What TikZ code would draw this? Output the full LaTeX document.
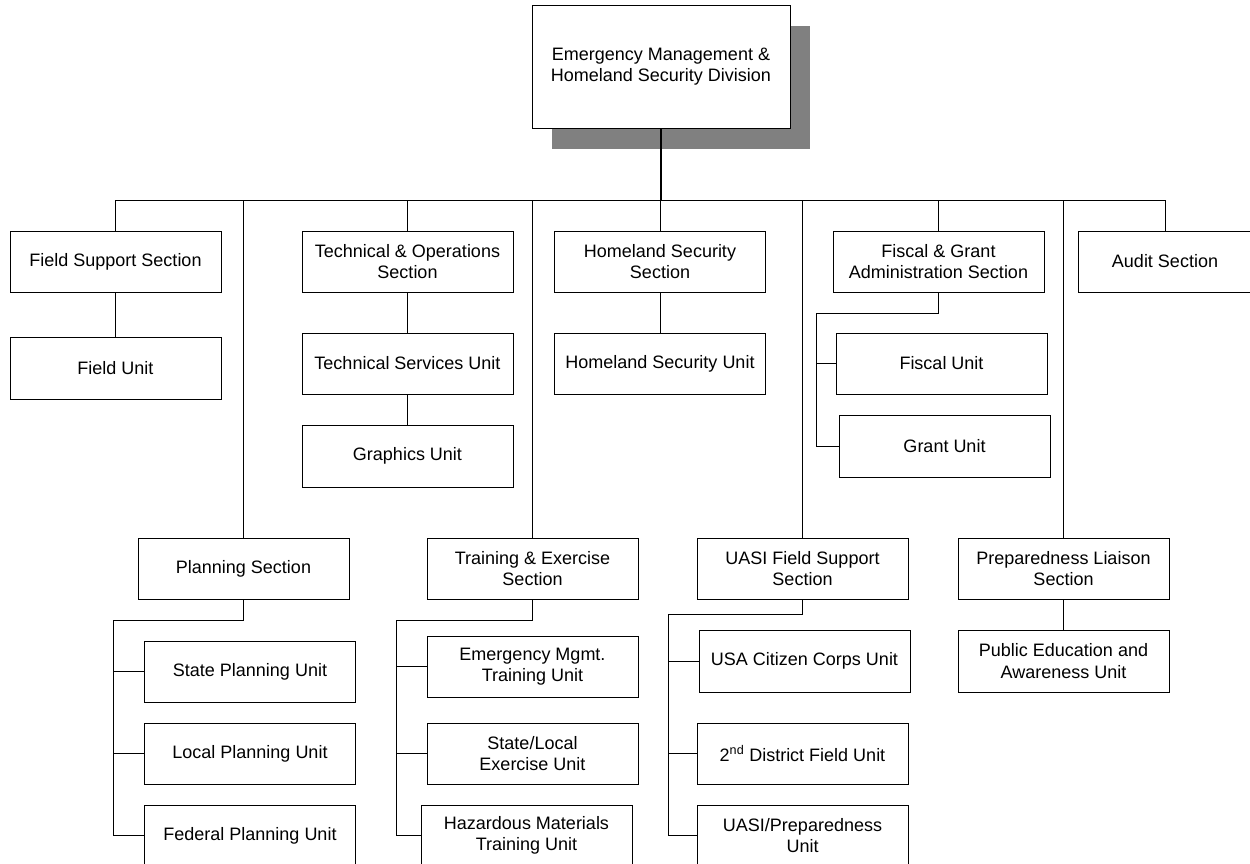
\documentclass[tikz,border=0pt]{standalone}
\usepackage{fontspec}
\setmainfont{Liberation Sans}
\usetikzlibrary{shadows}

\begin{document}
\begin{tikzpicture}[x=1pt,y=-1pt,
    box/.style={draw, line width=0.9pt, fill=white, minimum width=211pt,
      minimum height=61pt, align=center, inner sep=2pt,
      font=\fontsize{18}{21.5}\selectfont},
    link/.style={line width=0.9pt}]
      \useasboundingbox (0,0) rectangle (1250,864);
      \clip (0,0) rectangle (1250,864);
      % division
      \node[box, minimum width=258pt, minimum height=123pt,
        drop shadow={shadow xshift=20pt, shadow yshift=-21pt, fill=gray, opacity=1}]
        (ems) at (661,66.5) {Emergency Management \&\\Homeland Security Division};
      % upper sections
      \node[box] (fss) at (115.5,261.5) {Field Support Section};
      \node[box] (tos) at (407.5,261.5) {Technical \& Operations\\Section};
      \node[box] (hss) at (660,261.5)   {Homeland Security\\Section};
      \node[box] (fga) at (938.5,261.5) {Fiscal \& Grant\\Administration Section};
      \node[box, minimum width=174pt] (aud) at (1165,261.5) {Audit Section};
      % upper units
      \node[box, minimum height=62pt] (fu) at (115.5,368) {Field Unit};
      \node[box] (tsu) at (407.5,363.5) {Technical Services Unit};
      \node[box, minimum height=62pt] (gu) at (407.5,456) {Graphics Unit};
      \node[box] (hsu) at (660,363.5)   {Homeland Security Unit};
      \node[box] (fiu) at (941.5,363.5) {Fiscal Unit};
      \node[box, minimum height=62pt] (gru) at (944.5,446) {Grant Unit};
      % lower sections
      \node[box] (plan) at (243.5,568.5) {Planning Section};
      \node[box] (tes)  at (532.5,568.5) {Training \& Exercise\\Section};
      \node[box] (ufs)  at (802.5,568.5) {UASI Field Support\\Section};
      \node[box] (pls)  at (1063.5,568.5) {Preparedness Liaison\\Section};
      % lower units
      \node[box] (spu) at (250,671.5) {State Planning Unit};
      \node[box] (lpu) at (250,753.5) {Local Planning Unit};
      \node[box] (fpu) at (250,835.5) {Federal Planning Unit};
      \node[box] (emt) at (532.5,666.5) {Emergency Mgmt.\\Training Unit};
      \node[box] (slx) at (532.5,753.5) {State/Local\\Exercise Unit};
      \node[box] (hmt) at (526.5,835.5) {Hazardous Materials\\Training Unit};
      \node[box, minimum height=62pt] (ucc) at (804.5,661) {USA Citizen Corps Unit};
      \node[box] (dfu) at (802.5,753.5) {2\textsuperscript{nd} District Field Unit};
      \node[box] (upu) at (802.5,835.5) {UASI/Preparedness\\Unit};
      \node[box, minimum height=62pt] (peu) at (1063.5,661) {Public Education and\\Awareness Unit};
      % division -> bus
      \coordinate (bus) at (0,200);
      \draw[link, line width=1.7pt] (ems.south) -- (ems.south |- bus);
      \draw[link] (fss.north |- bus) -- (aud.north |- bus);
      \foreach \s in {fss,tos,hss,fga,aud,plan,tes,ufs,pls}
        \draw[link] (\s.north) -- (\s.north |- bus);
      % section -> unit
      \draw[link] (fss) -- (fu);
      \draw[link] (tos) -- (tsu);
      \draw[link] (tsu) -- (gu);
      \draw[link] (hss) -- (hsu);
      \draw[link] (pls) -- (peu);
      % fiscal elbow
      \coordinate (fgabar) at (816,313);
      \draw[link] (fga.south) |- (fgabar) -- (fgabar |- gru.west);
      \foreach \u in {fiu,gru}
        \draw[link] (fgabar |- \u.west) -- (\u.west);
      % planning elbow
      \coordinate (planbar) at (113,620);
      \draw[link] (plan.south) |- (planbar) -- (planbar |- fpu.west);
      \foreach \u in {spu,lpu,fpu}
        \draw[link] (planbar |- \u.west) -- (\u.west);
      % training elbow
      \coordinate (tesbar) at (396,620);
      \draw[link] (tes.south) |- (tesbar) -- (tesbar |- hmt.west);
      \foreach \u in {emt,slx,hmt}
        \draw[link] (tesbar |- \u.west) -- (\u.west);
      % uasi elbow
      \coordinate (ufsbar) at (668,614);
      \draw[link] (ufs.south) |- (ufsbar) -- (ufsbar |- upu.west);
      \foreach \u in {ucc,dfu,upu}
        \draw[link] (ufsbar |- \u.west) -- (\u.west);
    \end{tikzpicture}
\end{document}
